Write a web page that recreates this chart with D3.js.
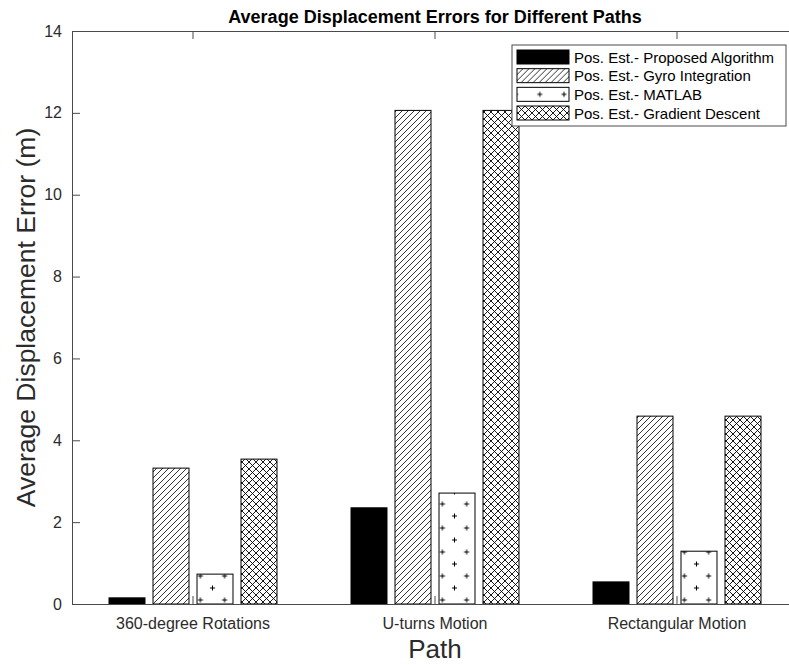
<!DOCTYPE html>
<html>
<head>
<meta charset="utf-8">
<script src="https://cdn.jsdelivr.net/npm/d3@7"></script>
<style>
  html, body { margin: 0; padding: 0; background: #fff; }
  svg { display: block; font-family: "Liberation Sans", Arial, Helvetica, sans-serif; }
</style>
</head>
<body>
<svg id="chart" width="789" height="665"></svg>
<script>
// Paths (groups along the x axis)
const categories = ["360-degree Rotations", "U-turns Motion", "Rectangular Motion"];

// Estimator names, in legend order
const seriesNames = [
  "Pos. Est.- Proposed Algorithm",
  "Pos. Est.- Gyro Integration",
  "Pos. Est.- MATLAB",
  "Pos. Est.- Gradient Descent"
];

// Average displacement error (m) for each path
const proposedValues = [0.15, 2.35, 0.54];
const gyroValues     = [3.32, 12.06, 4.59];
const matlabValues   = [0.73, 2.71, 1.29];
const gradientValues = [3.54, 12.06, 4.59];

const yTicks = [0, 2, 4, 6, 8, 10, 12, 14];

const seriesValues = [proposedValues, gyroValues, matlabValues, gradientValues];
const fills = ["#000", "url(#hatchDiag)", "url(#hatchPlus)", "url(#hatchCross)"];

const svg = d3.select("#chart");
const margin = { left: 72, right: 798, top: 31, bottom: 604 };
const axisColor = "#4a4a4a";
const textColor = "#2b2b2b";

// ---- fill patterns ----
const defs = svg.append("defs");

const diag = defs.append("pattern")
  .attr("id", "hatchDiag").attr("patternUnits", "userSpaceOnUse")
  .attr("width", 6).attr("height", 6);
diag.append("rect").attr("width", 6).attr("height", 6).attr("fill", "#fff");
diag.append("path")
  .attr("d", "M-1,1 L1,-1 M0,6 L6,0 M5,7 L7,5")
  .attr("stroke", "#000").attr("stroke-width", 0.8);

const cross = defs.append("pattern")
  .attr("id", "hatchCross").attr("patternUnits", "userSpaceOnUse")
  .attr("width", 7).attr("height", 7);
cross.append("rect").attr("width", 7).attr("height", 7).attr("fill", "#fff");
cross.append("path")
  .attr("d", "M-1,1 L1,-1 M0,7 L7,0 M6,8 L8,6 M-1,6 L1,8 M0,0 L7,7 M6,-1 L8,1")
  .attr("stroke", "#000").attr("stroke-width", 0.9);

const pw = 24.2, ph = 24;
const plus = defs.append("pattern")
  .attr("id", "hatchPlus").attr("patternUnits", "userSpaceOnUse")
  .attr("x", 201).attr("y", 600)
  .attr("width", pw).attr("height", ph);
plus.append("rect").attr("width", pw).attr("height", ph).attr("fill", "#fff");
const plusPts = [[0, 0], [pw, 0], [0, ph], [pw, ph], [pw / 2, ph / 2]];
plus.append("path")
  .attr("d", plusPts.map(([cx, cy]) =>
    `M${cx - 2.5},${cy} h5 M${cx},${cy - 2.5} v5`).join(" "))
  .attr("stroke", "#000").attr("stroke-width", 1);

// ---- scales ----
const x = d3.scaleBand()
  .domain(categories)
  .range([margin.left, margin.right])
  .padding(0);

const xInner = d3.scaleBand()
  .domain(d3.range(seriesNames.length))
  .range([-88, 88])
  .paddingInner(0.182)
  .paddingOuter(0.091);

const y = d3.scaleLinear().domain([0, 14]).range([margin.bottom, margin.top]);

// ---- bars ----
const groups = svg.append("g").selectAll("g")
  .data(categories)
  .join("g")
  .attr("transform", c => `translate(${x(c) + x.bandwidth() / 2},0)`);

groups.selectAll("rect")
  .data((c, ci) => seriesValues.map((vals, si) => ({ si, v: vals[ci] })))
  .join("rect")
  .attr("x", d => xInner(d.si))
  .attr("width", xInner.bandwidth())
  .attr("y", d => y(d.v))
  .attr("height", d => y(0) - y(d.v))
  .attr("fill", d => fills[d.si])
  .attr("stroke", "#000")
  .attr("stroke-width", 1);

// ---- axes (box with inward ticks) ----
const tickLen = 8;
const yAxis = d3.axisLeft(y).tickValues(yTicks).tickSizeInner(-tickLen).tickSizeOuter(0).tickPadding(10);
const gy = svg.append("g").attr("transform", `translate(${margin.left},0)`).call(yAxis);
gy.select(".domain").attr("stroke", axisColor);
gy.selectAll(".tick line").attr("stroke", axisColor);
gy.selectAll(".tick text")
  .attr("font-size", 16).attr("fill", textColor)
  .attr("font-family", "'Liberation Sans', Arial, sans-serif");

const xAxis = d3.axisBottom(x).tickSizeInner(-tickLen).tickSizeOuter(0).tickPadding(14);
const gx = svg.append("g").attr("transform", `translate(0,${margin.bottom})`).call(xAxis);
gx.select(".domain").attr("stroke", axisColor);
gx.selectAll(".tick line").attr("stroke", axisColor);
gx.selectAll(".tick text")
  .attr("font-size", 16).attr("fill", textColor)
  .attr("font-family", "'Liberation Sans', Arial, sans-serif");

const xTop = d3.axisTop(x).tickSizeInner(-tickLen).tickSizeOuter(0).tickFormat("");
const gt = svg.append("g").attr("transform", `translate(0,${margin.top})`).call(xTop);
gt.select(".domain").attr("stroke", axisColor);
gt.selectAll(".tick line").attr("stroke", axisColor);

// ---- titles ----
svg.append("text")
  .attr("x", (margin.left + margin.right) / 2).attr("y", 23)
  .attr("text-anchor", "middle")
  .attr("font-size", 18).attr("font-weight", "bold").attr("fill", "#000")
  .text("Average Displacement Errors for Different Paths");

svg.append("text")
  .attr("x", (margin.left + margin.right) / 2).attr("y", 658)
  .attr("text-anchor", "middle")
  .attr("font-size", 26).attr("fill", textColor)
  .text("Path");

svg.append("text")
  .attr("transform", `translate(35,${(margin.top + margin.bottom) / 2}) rotate(-90)`)
  .attr("text-anchor", "middle")
  .attr("font-size", 26.5).attr("fill", textColor)
  .text("Average Displacement Error (m)");

// ---- legend ----
const legend = svg.append("g");
legend.append("rect")
  .attr("x", 512).attr("y", 45).attr("width", 274).attr("height", 81)
  .attr("fill", "#fff").attr("stroke", axisColor).attr("stroke-width", 1);

const rowY = d3.scalePoint().domain(d3.range(seriesNames.length)).range([57, 113]);
const rows = legend.selectAll("g.row")
  .data(seriesNames)
  .join("g").attr("class", "row")
  .attr("transform", (d, i) => `translate(0,${rowY(i)})`);
rows.append("rect")
  .attr("x", 517).attr("y", -7).attr("width", 52).attr("height", 14)
  .attr("fill", (d, i) => fills[i])
  .attr("stroke", "#000").attr("stroke-width", 1);
rows.append("text")
  .attr("x", 574).attr("y", 5.5)
  .attr("font-size", 15).attr("fill", "#000")
  .text(d => d);
</script>
</body>
</html>
